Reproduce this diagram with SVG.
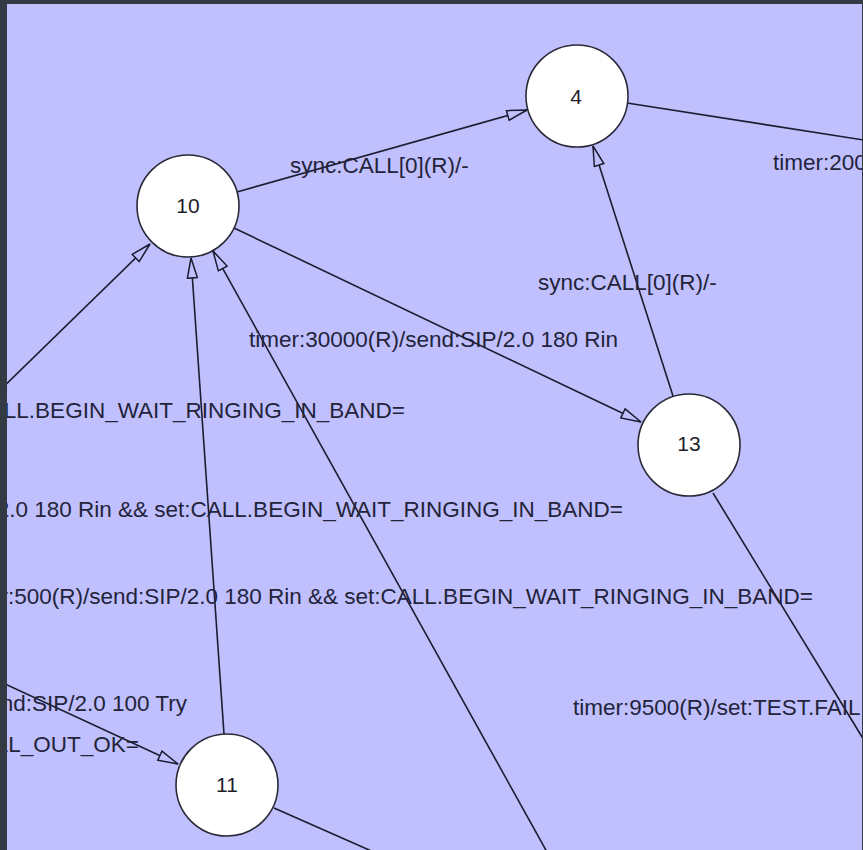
<svg xmlns="http://www.w3.org/2000/svg" width="863" height="850" viewBox="0 0 863 850">
<defs>
<style>
.bg{fill:#c0c0ff}
.edge{stroke:#1c1c30;stroke-width:1.6;fill:none}
.node circle{fill:#ffffff;stroke:#2a2a38;stroke-width:1.6}
.node text{font-family:"Liberation Sans",Arial,sans-serif;font-size:21px;fill:#1e1e28;text-anchor:middle}
.lbl{font-family:"Liberation Sans",Arial,sans-serif;font-size:22.5px;fill:#23233a}
.end{text-anchor:end}
</style>
<clipPath id="area"><rect x="7" y="4" width="855" height="846"/></clipPath>
<marker id="arr" markerUnits="userSpaceOnUse" viewBox="0 0 22 12" refX="21" refY="6" markerWidth="22" markerHeight="12" orient="auto">
<path d="M1,1 L21,6 L1,11 Z" fill="#c0c0ff" stroke="#1c1c30" stroke-width="1.5"/>
</marker>
</defs>
<rect x="0" y="0" width="863" height="850" fill="#343a44"/>
<rect class="bg" x="7" y="4" width="855" height="846"/>
<g clip-path="url(#area)">
<g id="connectors">
<line class="edge" x1="237" y1="192" x2="527" y2="110" marker-end="url(#arr)"/>
<line class="edge" x1="627" y1="103" x2="870" y2="141"/>
<line class="edge" x1="673" y1="396" x2="593" y2="146" marker-end="url(#arr)"/>
<line class="edge" x1="234" y1="228" x2="641" y2="422" marker-end="url(#arr)"/>
<line class="edge" x1="-10" y1="400" x2="150" y2="244" marker-end="url(#arr)"/>
<line class="edge" x1="224" y1="734" x2="191" y2="258" marker-end="url(#arr)"/>
<line class="edge" x1="547" y1="852" x2="213" y2="251" marker-end="url(#arr)"/>
<line class="edge" x1="-10" y1="677" x2="178" y2="764" marker-end="url(#arr)"/>
<line class="edge" x1="274" y1="808" x2="376" y2="853"/>
<line class="edge" x1="713" y1="493" x2="870" y2="750"/>
</g>
<g id="labels">
<text class="lbl" x="290" y="173">sync:CALL[0](R)/-</text>
<text class="lbl" x="773" y="170">timer:200</text>
<text class="lbl" x="538" y="290">sync:CALL[0](R)/-</text>
<text class="lbl" x="249" y="347">timer:30000(R)/send:SIP/2.0 180 Rin</text>
<text class="lbl end" x="405" y="418">ALL.BEGIN_WAIT_RINGING_IN_BAND=</text>
<text class="lbl end" x="623" y="517">2.0 180 Rin &amp;&amp; set:CALL.BEGIN_WAIT_RINGING_IN_BAND=</text>
<text class="lbl end" x="813" y="604">r:500(R)/send:SIP/2.0 180 Rin &amp;&amp; set:CALL.BEGIN_WAIT_RINGING_IN_BAND=</text>
<text class="lbl end" x="187" y="711">end:SIP/2.0 100 Try</text>
<text class="lbl" x="573" y="715">timer:9500(R)/set:TEST.FAIL</text>
<text class="lbl end" x="139" y="752">LL_OUT_OK=</text>
</g>
<g id="n4" class="node"><circle cx="577" cy="96" r="51"/><text x="576" y="104">4</text></g>
<g id="n10" class="node"><circle cx="188" cy="206" r="51"/><text x="188" y="213">10</text></g>
<g id="n13" class="node"><circle cx="689" cy="445" r="51"/><text x="689" y="451">13</text></g>
<g id="n11" class="node"><circle cx="227" cy="785" r="51"/><text x="227" y="792">11</text></g>
</g>
</svg>
